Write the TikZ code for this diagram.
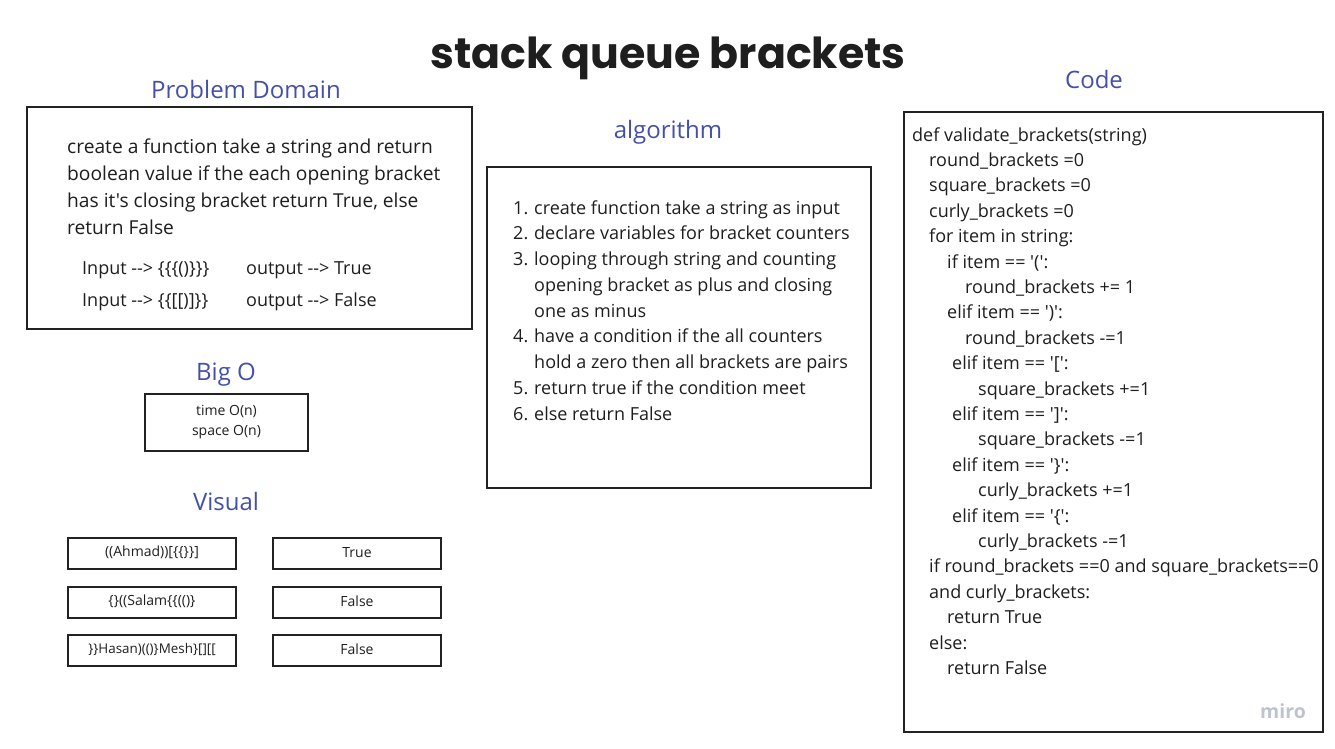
\documentclass[tikz,border=0pt]{standalone}
\usepackage{fontspec}
\setmainfont[Ligatures=TeXOff]{Open Sans}
\newfontfamily\titlefont{Poppins}
\definecolor{headc}{HTML}{4450A8}
\definecolor{txtc}{HTML}{1E1E1E}
\definecolor{boxc}{HTML}{222222}
\definecolor{miroc}{HTML}{BFC3CF}
\tikzset{
  box/.style={draw=boxc, line width=2pt, inner sep=0pt},
  head/.style={anchor=base, inner sep=0pt, text=headc, font=\fontsize{24}{28}\selectfont},
  pln/.style={anchor=base west, inner sep=0pt, text=txtc, font=\fontsize{19.2}{23}\selectfont},
  ln/.style={anchor=base west, inner sep=0pt, text=txtc, font=\fontsize{18}{22}\selectfont},
  sm/.style={text=txtc, font=\fontsize{14}{17}\selectfont, align=center},
}
\begin{document}
\begin{tikzpicture}[x=1pt,y=-1pt]
\useasboundingbox (0,0) rectangle (1335,748);
% title
\node[anchor=base, inner sep=0pt, text=txtc, font=\titlefont\bfseries\fontsize{42.7}{46}\selectfont] (title) at (668,68) {stack queue brackets};

% Problem domain
\node[head] (hpd) at (246,98) {Problem Domain};
\node[box, minimum width=445, minimum height=222] (pd) at (249.5,218) {};
\node[pln] (p1) at (67,153) {create a function take a string and return};
\node[pln] (p2) at (67,180) {boolean value if the each opening bracket};
\node[pln] (p3) at (67,207) {has it's closing bracket return True, else};
\node[pln] (p4) at (67,234) {return False};
\node[ln] (i1) at (82,274) {Input --> \{\{\{()\}\}\}};
\node[ln] (o1) at (246,274) {output --> True};
\node[ln] (i2) at (82,306) {Input --> \{\{[[)]\}\}};
\node[ln] (o2) at (246,306) {output --> False};

% Big O
\node[head] (hbo) at (226,380) {Big O};
\node[box, minimum width=163, minimum height=57] (bo) at (226.5,422.5) {};
\node[sm] (bot) at (226.5,422) {time O(n)\\[2.5pt]space O(n)};

% Visual
\node[head] (hvi) at (226,510) {Visual};
\node[box, minimum width=168, minimum height=31] (v1) at (152,553.5) {};
\node[box, minimum width=168, minimum height=31] (v2) at (152,602.5) {};
\node[box, minimum width=168, minimum height=31] (v3) at (152,650.5) {};
\node[box, minimum width=168, minimum height=31] (r1) at (357,553.5) {};
\node[box, minimum width=168, minimum height=31] (r2) at (357,602.5) {};
\node[box, minimum width=168, minimum height=31] (r3) at (357,650.5) {};
\node[sm] (v1t) at (152,552.5) {((Ahmad))[\{\{\}\}]};
\node[sm] (v2t) at (152,601.5) {\{\}((Salam\{\{(()\}};
\node[sm, font=\fontsize{13.4}{16}\selectfont] (v3t) at (152,649.5) {\}\}Hasan)(()\}Mesh\}[][[};
\node[sm] (r1t) at (357,552.5) {True};
\node[sm] (r2t) at (357,601.5) {False};
\node[sm] (r3t) at (357,649.5) {False};

% algorithm
\node[head] (hal) at (668,138) {algorithm};
\node[box, minimum width=384, minimum height=321] (al) at (679,327.5) {};
\node[ln] (a1) at (513,214) {\makebox[21pt][l]{1.}create function take a string as input};
\node[ln] (a2) at (513,239.75) {\makebox[21pt][l]{2.}declare variables for bracket counters};
\node[ln] (a3) at (513,265.5) {\makebox[21pt][l]{3.}looping through string and counting};
\node[ln] (a3b) at (534,291.25) {opening bracket as plus and closing};
\node[ln] (a3c) at (534,317) {one as minus};
\node[ln] (a4) at (513,342.75) {\makebox[21pt][l]{4.}have a condition if the all counters};
\node[ln] (a4b) at (534,368.5) {hold a zero then all brackets are pairs};
\node[ln] (a5) at (513,394.25) {\makebox[21pt][l]{5.}return true if the condition meet};
\node[ln] (a6) at (513,420) {\makebox[21pt][l]{6.}else return False};

% Code
\node[head] (hco) at (1094,88) {Code};
\node[box, minimum width=419, minimum height=620] (co) at (1113.5,422) {};
\node[ln] (c1)  at (912,141)   {def validate\_brackets(string)};
\node[ln] (c2)  at (929,166.4) {round\_brackets =0};
\node[ln] (c3)  at (929,191.8) {square\_brackets =0};
\node[ln] (c4)  at (929,217.2) {curly\_brackets =0};
\node[ln] (c5)  at (929,242.6) {for item in string:};
\node[ln] (c6)  at (947,268)   {if item == '(':};
\node[ln] (c7)  at (965,293.4) {round\_brackets += 1};
\node[ln] (c8)  at (947,318.8) {elif item == ')':};
\node[ln] (c9)  at (965,344.2) {round\_brackets -=1};
\node[ln] (c10) at (952,369.6) {elif item == '[':};
\node[ln] (c11) at (978,395)   {square\_brackets +=1};
\node[ln] (c12) at (952,420.4) {elif item == ']':};
\node[ln] (c13) at (978,445.8) {square\_brackets -=1};
\node[ln] (c14) at (952,471.2) {elif item == '\}':};
\node[ln] (c15) at (978,496.6) {curly\_brackets +=1};
\node[ln] (c16) at (952,522)   {elif item == '\{':};
\node[ln] (c17) at (978,547.4) {curly\_brackets -=1};
\node[ln] (c18) at (929,572.8) {if round\_brackets ==0 and square\_brackets==0};
\node[ln] (c19) at (929,598.2) {and curly\_brackets:};
\node[ln] (c20) at (947,623.6) {return True};
\node[ln] (c21) at (929,649)   {else:};
\node[ln] (c22) at (947,674.4) {return False};
\node[anchor=center, inner sep=0pt, text=miroc, font=\bfseries\fontsize{19.5}{22}\selectfont] (miro) at (1283,711) {miro};
\end{tikzpicture}
\end{document}
